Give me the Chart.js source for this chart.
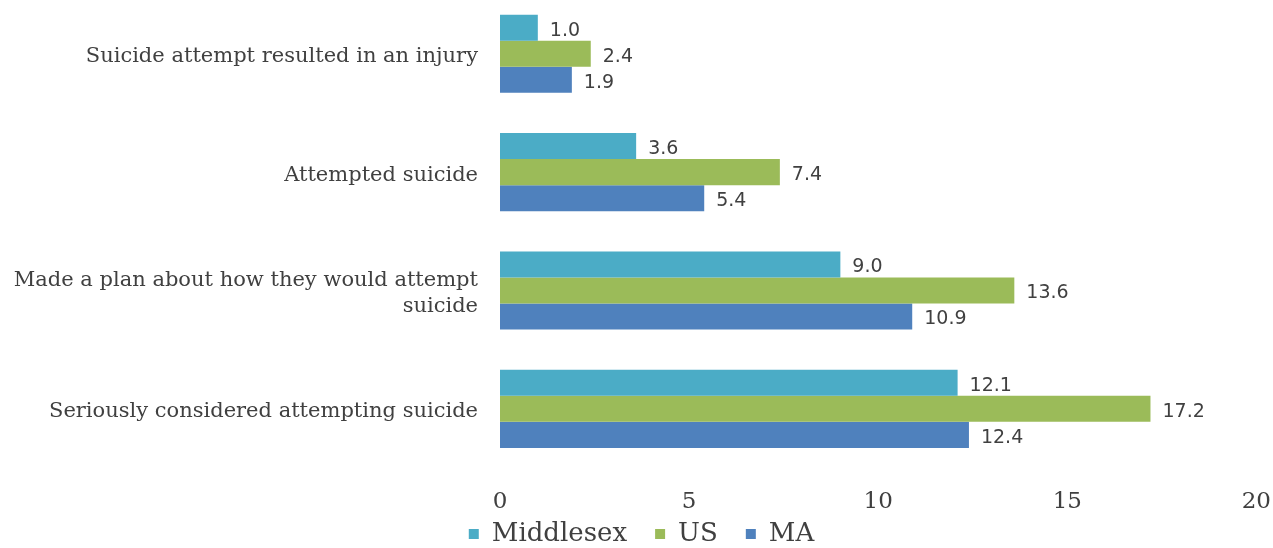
<!DOCTYPE html>
<html>
<head>
<meta charset="utf-8">
<script src="https://cdn.jsdelivr.net/npm/chart.js@4/dist/chart.umd.min.js"></script>
<style>
  html, body { margin: 0; padding: 0; background: #fff; overflow: hidden; }
  #wrap { position: absolute; left: 0; top: -32px; width: 1283px; height: 609px; }
</style>
</head>
<body>
<div id="wrap"><canvas id="chart"></canvas></div>
<script>
// Categories, top to bottom
const categories = [
    'Suicide attempt resulted in an injury',
    'Attempted suicide',
    ['Made a plan about how they would attempt', 'suicide'],
    'Seriously considered attempting suicide'
];
const middlesex = [1.0, 3.6, 9.0, 12.1];
const us = [2.4, 7.4, 13.6, 17.2];
const ma = [1.9, 5.4, 10.9, 12.4];
const xTicks = [0, 5, 10, 15, 20];

// value labels at the end of each bar
const barLabels = {
    id: 'barLabels',
    afterDatasetsDraw(chart) {
        const ctx = chart.ctx;
        ctx.save();
        ctx.font = '19px "DejaVu Sans"';
        ctx.fillStyle = '#404040';
        ctx.textAlign = 'left';
        ctx.textBaseline = 'middle';
        chart.data.datasets.forEach((ds, i) => {
            chart.getDatasetMeta(i).data.forEach((bar, j) => {
                ctx.fillText(ds.data[j].toFixed(1), bar.x + 12, bar.y + 3);
            });
        });
        ctx.restore();
    }
};

// pull the legend up closer to the tick labels (its padding also sets the item gap)
const legendShift = {
    id: 'legendShift',
    afterLayout(chart) {
        const lg = chart.legend;
        if (lg) { lg.top -= 20; lg.bottom -= 20; }
    }
};

new Chart(document.getElementById('chart'), {
    type: 'bar',
    data: {
        labels: categories,
        datasets: [
            { label: 'Middlesex', data: middlesex, backgroundColor: '#4BACC6' },
            { label: 'US', data: us, backgroundColor: '#9BBB59' },
            { label: 'MA', data: ma, backgroundColor: '#4F81BD' }
        ]
    },
    options: {
        indexAxis: 'y',
        responsive: true,
        maintainAspectRatio: false,
        animation: false,
        categoryPercentage: 0.66,
        barPercentage: 1.0,
        layout: { padding: { left: 0, right: 0, top: 0, bottom: 0 } },
        plugins: {
            legend: {
                position: 'bottom',
                labels: {
                    boxWidth: 10,
                    boxHeight: 10,
                    padding: 28,
                    color: '#404040',
                    font: { family: '"DejaVu Serif"', size: 26 }
                }
            },
            tooltip: { enabled: false }
        },
        scales: {
            x: {
                min: 0,
                max: 20,
                afterBuildTicks: (s) => { s.ticks = xTicks.map(v => ({ value: v })); },
                afterFit: (s) => { s.height = 45; },
                grid: { display: false },
                border: { display: false },
                ticks: {
                    color: '#404040',
                    padding: 12,
                    font: { family: '"DejaVu Serif"', size: 23 }
                }
            },
            y: {
                grid: { display: false },
                border: { display: false },
                afterFit: (s) => { s.width = 500; },
                ticks: {
                    color: '#404040',
                    padding: 14,
                    labelOffset: 3,
                    font: { family: '"DejaVu Serif"', size: 21 }
                }
            }
        }
    },
    plugins: [barLabels, legendShift]
});
</script>
</body>
</html>
